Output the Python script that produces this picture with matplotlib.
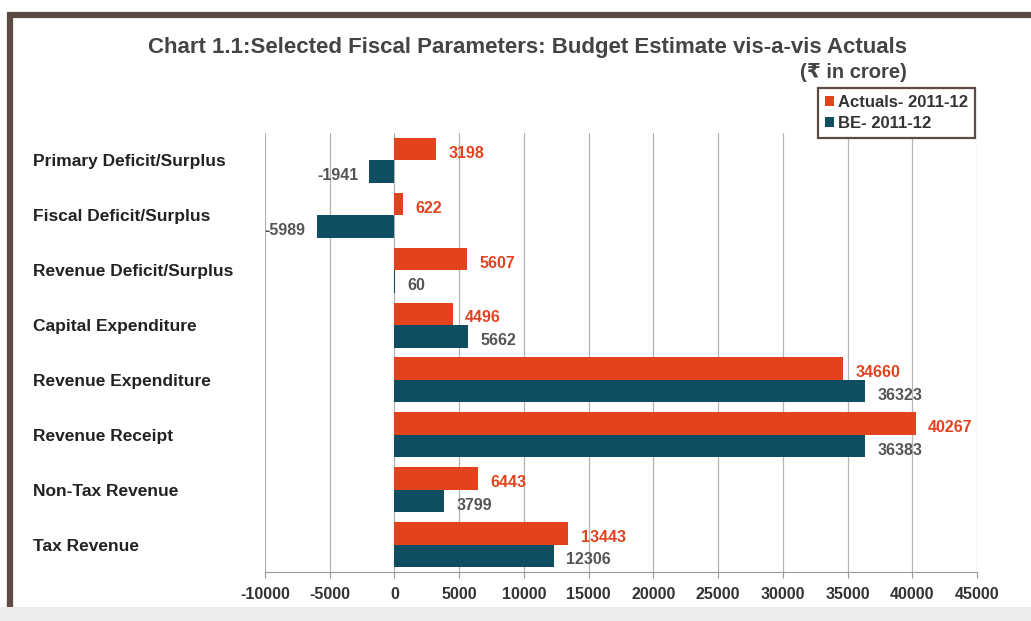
import numpy as np
import matplotlib
matplotlib.use("Agg")
from matplotlib import pyplot as plt
from matplotlib.patches import Rectangle

# chart data (Rs in crore), top to bottom as in the chart
categories = ["Primary Deficit/Surplus", "Fiscal Deficit/Surplus",
              "Revenue Deficit/Surplus", "Capital Expenditure",
              "Revenue Expenditure", "Revenue Receipt",
              "Non-Tax Revenue", "Tax Revenue"]
actuals = [3198, 622, 5607, 4496, 34660, 40267, 6443, 13443]
budget_est = [-1941, -5989, 60, 5662, 36323, 36383, 3799, 12306]
x_ticks = [-10000, -5000, 0, 5000, 10000, 15000, 20000, 25000,
           30000, 35000, 40000, 45000]

orange = "#E2431E"
teal = "#0F4D60"
frame_col = "#5b4b42"

plt.rcParams['font.family'] = ['Liberation Sans', 'DejaVu Sans']

fig = plt.figure(figsize=(10.31, 6.21), dpi=100)
ax = fig.add_axes([265/1031, 1 - 572/621, (977-265)/1031, (572-133)/621])

y = np.arange(len(categories))
h = 0.41
bars_a = ax.barh(y - h/2, actuals, height=h, color=orange, label="Actuals- 2011-12")
bars_b = ax.barh(y + h/2, budget_est, height=h, color=teal, label="BE- 2011-12")

# value labels
for bars, vals, col in [(bars_a, actuals, orange), (bars_b, budget_est, "#555555")]:
    for b, v in zip(bars, vals):
        yc = b.get_y() + b.get_height()/2
        if v < 0:
            ax.annotate(str(v), (v, yc), xytext=(-8, -3), textcoords="offset points",
                        ha="right", va="center", fontsize=11.5, fontweight="bold", color=col)
        else:
            ax.annotate(str(v), (v, yc), xytext=(9, -3), textcoords="offset points",
                        ha="left", va="center", fontsize=11.5, fontweight="bold", color=col)

ax.set_xlim(-10000, 45000)
ax.set_ylim(len(categories) - 0.5, -0.5)
ax.set_xticks(x_ticks)
ax.set_xticklabels([str(t) for t in x_ticks], fontsize=11.5, fontweight="bold", color="#333333")
ax.set_yticks(y)
ax.set_yticklabels(categories, fontsize=12.5, fontweight="bold", color="#222222", ha="left")
ax.tick_params(axis="y", length=0, pad=167)
ax.tick_params(axis="x", length=4, color="#999999", pad=7)
ax.xaxis.grid(True, color="#b5b5b5", linewidth=0.9)
ax.set_axisbelow(True)
for s in ["top", "right", "left"]:
    ax.spines[s].set_visible(False)
ax.spines["bottom"].set_color("#999999")

leg = fig.legend(loc="upper right", bbox_to_anchor=(975/1031, 1 - 88/621),
                 prop={"weight": "bold", "size": 12},
                 handlelength=0.55, handleheight=0.55, handletextpad=0.25,
                 labelspacing=0.4, borderpad=0.4, borderaxespad=0,
                 fancybox=False, framealpha=1)
leg.get_frame().set_edgecolor(frame_col)
leg.get_frame().set_linewidth(1.6)
for t in leg.get_texts():
    t.set_color("#333333")

fig.text(0.5116, 1 - 47/621, "Chart 1.1:Selected Fiscal Parameters: Budget Estimate vis-a-vis Actuals",
         ha="center", va="center", fontsize=16, fontweight="bold", color="#444444")
fig.text(853/1031, 1 - 72/621, "(\u20b9 in crore)", ha="center", va="center",
         fontsize=14.5, fontweight="bold", color="#444444")

# outer frame of the scanned chart
fig.patches.append(Rectangle((10/1031, -0.1), 1.2, 1 - 14.5/621 + 0.1,
                             transform=fig.transFigure, fill=False,
                             edgecolor=frame_col, linewidth=4.5))
fig.patches.append(Rectangle((0, 0), 1, 14/621, transform=fig.transFigure,
                             facecolor="#ececec", edgecolor="none"))

fig.savefig("out.png", dpi=100)
